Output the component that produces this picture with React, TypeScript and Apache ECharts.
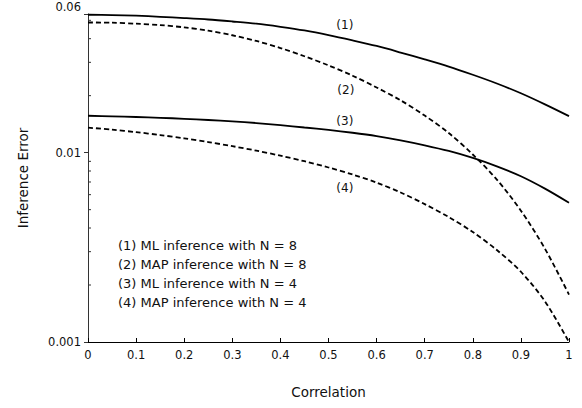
import React, { useEffect, useRef } from "react";
import * as echarts from "echarts";

// Correlation sample points (x)
const correlation = [0, 0.05, 0.1, 0.15, 0.2, 0.25, 0.3, 0.35, 0.4, 0.45, 0.5, 0.55, 0.6, 0.65, 0.7, 0.75, 0.8, 0.85, 0.9, 0.95, 1];
// (1) ML inference, N = 8
const mlN8 = [0.0535, 0.0533, 0.0529, 0.0522, 0.0514, 0.0505, 0.0493, 0.048, 0.0462, 0.0442, 0.0418, 0.0392, 0.0366, 0.0338, 0.0311, 0.0285, 0.0258, 0.0232, 0.0206, 0.018, 0.0156];
// (2) MAP inference, N = 8
const mapN8 = [0.0487, 0.0486, 0.048, 0.0472, 0.0459, 0.0441, 0.0417, 0.0389, 0.0357, 0.0323, 0.0289, 0.0255, 0.0221, 0.0189, 0.0157, 0.0127, 0.00978, 0.00721, 0.00494, 0.00311, 0.00178];
// (3) ML inference, N = 4
const mlN4 = [0.01567, 0.01556, 0.01543, 0.01528, 0.0151, 0.01488, 0.01463, 0.01434, 0.01398, 0.01358, 0.01319, 0.01274, 0.01223, 0.01162, 0.01094, 0.01021, 0.00938, 0.00847, 0.00751, 0.00646, 0.00544];
// (4) MAP inference, N = 4
const mapN4 = [0.01356, 0.01323, 0.01284, 0.01239, 0.0119, 0.01138, 0.01082, 0.01025, 0.00964, 0.00901, 0.00835, 0.00767, 0.00695, 0.00616, 0.00535, 0.00457, 0.00381, 0.00306, 0.00235, 0.00164, 0.001];

const xTickLabels = ["0", "0.1", "0.2", "0.3", "0.4", "0.5", "0.6", "0.7", "0.8", "0.9", "1"];
const yMin = 0.001;
const yMax = 0.054;
const yTickValues = [0.001, 0.01, 0.054];
const yTickLabels = ["0.001", "0.01", "0.06"];
const yMinorTicks = [0.002, 0.003, 0.004, 0.005, 0.006, 0.007, 0.008, 0.009, 0.02, 0.03, 0.04, 0.05];

const curveTags = ["(1)", "(2)", "(3)", "(4)"];
const curveTagX = [0.534, 0.536, 0.534, 0.534];
const curveTagY = [0.0474, 0.0215, 0.0147, 0.0065];

const legendLines = [
  "(1) ML inference with N = 8",
  "(2) MAP inference with N = 8",
  "(3) ML inference with N = 4",
  "(4) MAP inference with N = 4",
];

const FONT = "DejaVu Sans";
const TEXT = "#111";

export default function App() {
  const ref = useRef<HTMLDivElement>(null);

  useEffect(() => {
    document.body.style.margin = "0";
    const chart = echarts.init(ref.current!, null, { renderer: "svg" });

    const mk = (name: string, data: number[], dashed: boolean) => ({
      type: "line",
      name,
      data: correlation.map((c, i) => [c, data[i]]),
      smooth: 0.3,
      showSymbol: false,
      symbol: "none",
      silent: true,
      lineStyle: { color: "#000", width: 1.8, type: dashed ? [5, 3] : "solid" },
      itemStyle: { color: "#000" },
    });

    chart.setOption({
      animation: false,
      grid: { left: 88, right: 13, top: 14, bottom: 66, containLabel: false },
      xAxis: {
        type: "value",
        min: 0,
        max: 1,
        interval: 0.1,
        name: "Correlation",
        nameLocation: "middle",
        nameGap: 43,
        nameTextStyle: { fontFamily: FONT, fontSize: 13.5, color: TEXT },
        axisLine: { show: true, onZero: false, lineStyle: { color: "#000", width: 1 } },
        axisTick: { show: true, inside: true, length: 4, lineStyle: { color: "#000" } },
        axisLabel: {
          margin: 7,
          fontFamily: FONT,
          fontSize: 11.5,
          color: TEXT,
          formatter: (v: number) => xTickLabels[Math.round(v * 10)] ?? "",
        },
        splitLine: { show: false },
      },
      yAxis: {
        type: "log",
        logBase: 10,
        min: yMin,
        max: yMax,
        name: "Inference Error",
        nameLocation: "middle",
        nameGap: 58,
        nameTextStyle: { fontFamily: FONT, fontSize: 13.5, color: TEXT },
        axisLine: { show: true, lineStyle: { color: "#333", width: 1 } },
        axisTick: { show: true, inside: false, length: 4, lineStyle: { color: "#333" } },
        axisLabel: {
          margin: 7,
          fontFamily: FONT,
          fontSize: 11.5,
          color: TEXT,
          showMinLabel: true,
          showMaxLabel: true,
          formatter: (v: number) => {
            const idx = yTickValues.findIndex(
              (t) => Math.abs(Math.log10(t) - Math.log10(v)) < 0.01
            );
            if (idx < 0) return "";
            if (idx === yTickValues.length - 1) return "{top|" + yTickLabels[idx] + "}";
            return yTickLabels[idx];
          },
          rich: {
            top: { fontFamily: FONT, fontSize: 11.5, color: TEXT, padding: [0, 0, 15, 0] },
          },
        },
        splitLine: { show: false },
      },
      series: [
        mk("ML N=8", mlN8, false),
        mk("MAP N=8", mapN8, true),
        mk("ML N=4", mlN4, false),
        mk("MAP N=4", mapN4, true),
      ],
    });

    const x0 = chart.convertToPixel({ xAxisIndex: 0 }, 0) as number;
    const graphics: any[] = [];
    yMinorTicks.forEach((v) => {
      const y = chart.convertToPixel({ yAxisIndex: 0 }, v) as number;
      graphics.push({
        type: "line",
        silent: true,
        shape: { x1: x0, y1: y, x2: x0 + 3, y2: y },
        style: { stroke: "#333", lineWidth: 1 },
      });
    });
    curveTags.forEach((t, i) => {
      const p = chart.convertToPixel({ gridIndex: 0 }, [curveTagX[i], curveTagY[i]]) as number[];
      graphics.push({
        type: "text",
        silent: true,
        x: p[0],
        y: p[1],
        style: {
          text: t,
          align: "center",
          verticalAlign: "middle",
          fontFamily: FONT,
          fontSize: 12,
          fill: TEXT,
        },
      });
    });
    legendLines.forEach((t, i) => {
      graphics.push({
        type: "text",
        silent: true,
        x: 118,
        y: 245 + i * 19,
        style: {
          text: t,
          align: "left",
          verticalAlign: "middle",
          fontFamily: FONT,
          fontSize: 13,
          fill: TEXT,
        },
      });
    });
    chart.setOption({ graphic: graphics });

    return () => chart.dispose();
  }, []);

  return <div ref={ref} style={{ width: 582, height: 408 }} />;
}
